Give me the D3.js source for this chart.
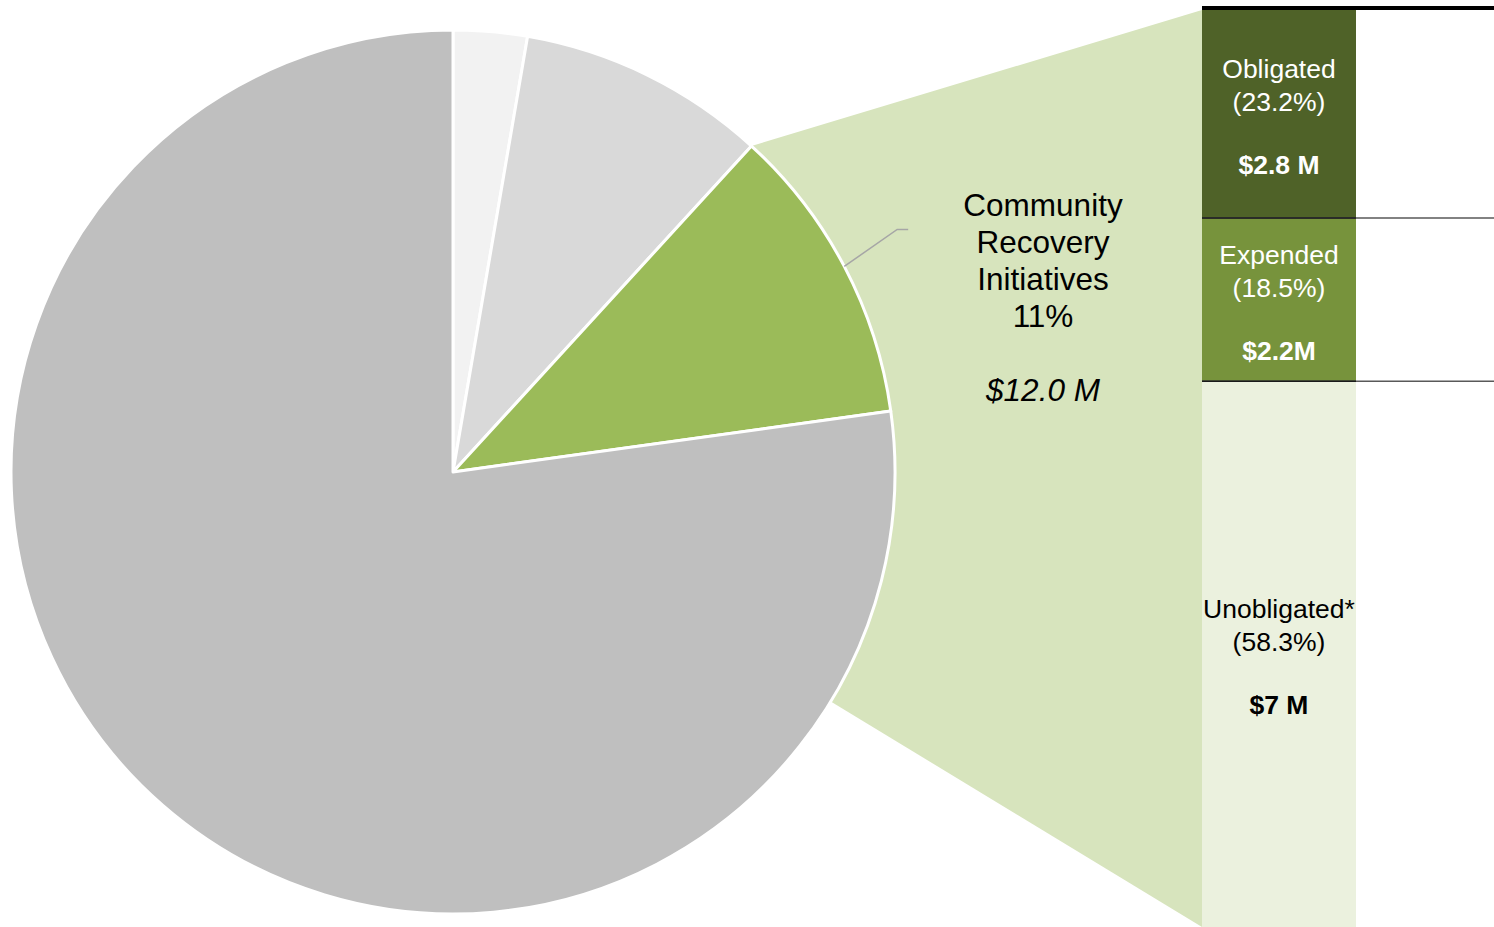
<!DOCTYPE html>
<html>
<head>
<meta charset="utf-8">
<script src="https://cdn.jsdelivr.net/npm/d3@7"></script>
<style>
  html, body { margin: 0; padding: 0; background: #fff; }
  svg { display: block; font-family: "Liberation Sans", Arial, sans-serif; }
</style>
</head>
<body>
<svg id="chart" width="1494" height="927"></svg>
<script>
// ---- Data ----
const pieCategories = ["Other A", "Other B", "Community Recovery Initiatives", "Other C"];
const pieValues = [2.7, 9.1, 11.0, 77.2];
const pieColors = ["#f2f2f2", "#d9d9d9", "#9bbb59", "#bfbfbf"];
const focusIndex = 2;
const focusLabelLines = ["Community", "Recovery", "Initiatives", "11%"];
const focusAmount = "$12.0 M";

const barCategories = ["Obligated", "Expended", "Unobligated*"];
const barValues = [2.8, 2.2, 7.35];          // $M, segment heights as drawn
const barPercentLabels = ["(23.2%)", "(18.5%)", "(58.3%)"];
const barAmountLabels = ["$2.8 M", "$2.2M", "$7 M"];
const barColors = ["#4f6228", "#77933c", "#ebf1de"];
const barTextColors = ["#ffffff", "#ffffff", "#000000"];

// ---- Layout ----
const svg = d3.select("#chart");
const W = 1494, H = 927;
const cx = 453, cy = 472, R = 442;
const barX0 = 1202, barX1 = 1356;
const barTop = 10, barBottom = 927;

const pie = d3.pie().sort(null).value(d => d)(pieValues);
const arc = d3.arc().innerRadius(0).outerRadius(R);

const total = d3.sum(barValues);
const y = d3.scaleLinear().domain([0, total]).range([barTop, barBottom]);
const cum = [0];
barValues.forEach((v, i) => cum.push(cum[i] + v));

const pt = (a, r) => [cx + r * Math.sin(a), cy - r * Math.cos(a)];

// connector polygon
const fs = pie[focusIndex];
const pStart = pt(fs.startAngle, R);
svg.append("polygon")
  .attr("points", [pStart, [barX0, y(0)], [barX0, y(total)], [cx, cy]].map(p => p.join(",")).join(" "))
  .attr("fill", "#d7e4bd");

// pie
const g = svg.append("g").attr("transform", `translate(${cx},${cy})`);
g.selectAll("path").data(pie).join("path")
  .attr("d", arc)
  .attr("fill", (d, i) => pieColors[i])
  .attr("stroke", "#ffffff")
  .attr("stroke-width", 3)
  .attr("stroke-linejoin", "round");

// leader line
const mid = (fs.startAngle + fs.endAngle) / 2;
const p0 = pt(mid, R);
const p1 = pt(mid - 0.016, R * 1.145);
const p2 = [p1[0] + 11, p1[1]];
svg.append("polyline")
  .attr("points", [p0, p1, p2].map(p => p.join(",")).join(" "))
  .attr("fill", "none")
  .attr("stroke", "#a6a6a6")
  .attr("stroke-width", 1.5);

// focus label
const lx = 1043;
const lbl = svg.append("text").attr("text-anchor", "middle").attr("fill", "#000").style("font-size", "31.5px");
focusLabelLines.forEach((t, i) => {
  lbl.append("tspan").attr("x", lx).attr("y", 216 + i * 37).text(t);
});
svg.append("text").attr("x", lx).attr("y", 401).attr("text-anchor", "middle")
  .style("font-size", "31.5px").style("font-style", "italic").text(focusAmount);

// bar segments
const segs = svg.append("g");
barValues.forEach((v, i) => {
  segs.append("rect")
    .attr("x", barX0).attr("width", barX1 - barX0)
    .attr("y", y(cum[i])).attr("height", y(cum[i + 1]) - y(cum[i]))
    .attr("fill", barColors[i]);
});

// boundary lines extending right
for (let i = 0; i < barValues.length; i++) {
  const yy = y(cum[i]);
  svg.append("line")
    .attr("x1", barX0).attr("x2", W).attr("y1", i === 0 ? yy - 2 : yy).attr("y2", i === 0 ? yy - 2 : yy)
    .attr("stroke", i === 0 ? "#000" : "#595959")
    .attr("stroke-width", i === 0 ? 4 : 1.5);
  if (i > 0) {
    svg.append("line").attr("x1", barX0).attr("x2", barX1).attr("y1", yy).attr("y2", yy)
      .attr("stroke", "#1a1a1a").attr("stroke-width", 1.5);
  }
}

// bar labels
const bcx = (barX0 + barX1) / 2;
barValues.forEach((v, i) => {
  const c = (y(cum[i]) + y(cum[i + 1])) / 2;
  const t = svg.append("text").attr("text-anchor", "middle").attr("fill", barTextColors[i]).style("font-size", "26.5px");
  t.append("tspan").attr("x", bcx).attr("y", c - 36).text(barCategories[i]);
  t.append("tspan").attr("x", bcx).attr("y", c - 3).text(barPercentLabels[i]);
  svg.append("text").attr("x", bcx).attr("y", c + 60).attr("text-anchor", "middle")
    .attr("fill", barTextColors[i]).style("font-size", "26.5px").style("font-weight", "bold")
    .text(barAmountLabels[i]);
});
</script>
</body>
</html>
